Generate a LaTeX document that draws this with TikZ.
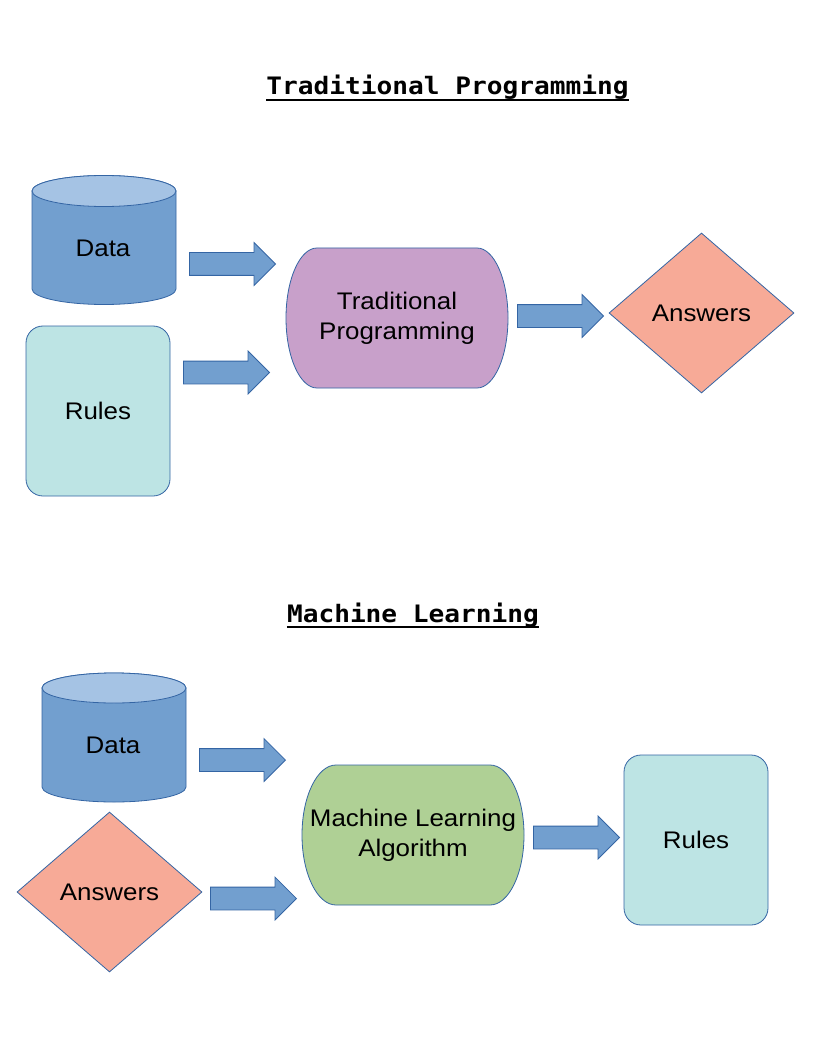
\documentclass[tikz,border=0pt]{standalone}
\usepackage{fontspec}
\setmainfont{Liberation Sans}[FakeStretch=1.08]
\newfontfamily\titlefont{DejaVu Sans Mono}[FakeStretch=1.09]
\usetikzlibrary{shapes.geometric,shapes.arrows}
\definecolor{bordc}{HTML}{3465A4}
\definecolor{bluefill}{HTML}{729FCF}
\definecolor{cyltop}{HTML}{A5C3E4}
\definecolor{rulesfill}{HTML}{BDE4E4}
\definecolor{tpfill}{HTML}{C8A0CA}
\definecolor{ansfill}{HTML}{F7AA97}
\definecolor{mlfill}{HTML}{AFD095}
\begin{document}
\begin{tikzpicture}[x=1pt,y=-1pt,
  shapeline/.style={draw=bordc,line width=0.8pt},
  txt/.style={font=\fontsize{24}{30}\selectfont,align=center,inner sep=0pt,text=black},
  titletxt/.style={font=\titlefont\bfseries\fontsize{24}{28}\selectfont,inner sep=0pt,anchor=base},
  ul/.style={line width=2pt,black},
  barrow/.style={single arrow,shapeline,fill=bluefill,minimum height=86pt,text height=0pt,text depth=0pt,text width=0pt,inner xsep=0pt,inner ysep=11pt,single arrow head extend=10pt,anchor=tip},
  rulesbox/.style={rectangle,rounded corners=17pt,shapeline,fill=rulesfill,minimum width=144pt,minimum height=170pt,txt},
  answersbox/.style={diamond,shapeline,fill=ansfill,minimum width=185pt,minimum height=160pt,txt}]
\useasboundingbox[fill=white] (0,0) rectangle (816,1056);

% ---------- Traditional Programming ----------
\node[titletxt] (t1) at (447.5,94.5) {Traditional Programming};
\draw[ul] ([yshift=-6pt]t1.base west) -- ([yshift=-6pt]t1.base east);

% Data cylinder
\path[shapeline,fill=bluefill] (32,191) -- (32,289)
  arc[start angle=180,end angle=360,x radius=72pt,y radius=15.5pt] -- (176,191)
  arc[start angle=0,end angle=180,x radius=72pt,y radius=15.5pt] -- cycle;
\draw[shapeline,fill=cyltop] (104,191) ellipse[x radius=72pt,y radius=15.5pt];
\node[txt] (data1) at (103,248) {Data};

% Rules
\node[rulesbox] (rules1) at (98,411) {Rules};

% Traditional Programming process
\path[shapeline,fill=tpfill] (317,248) -- (477,248)
  arc[start angle=90,end angle=-90,x radius=31pt,y radius=70pt] -- (317,388)
  arc[start angle=270,end angle=90,x radius=31pt,y radius=70pt] -- cycle;
\node[txt] (tp) at (397,318) {Traditional\\Programming};

% Answers
\node[answersbox] (ans1) at (701.5,313) {Answers};

% arrows
\node[barrow] (ar1) at (276,264) {};
\node[barrow] (ar2) at (270,372.5) {};
\node[barrow] (ar3) at (604,316) {};

% ---------- Machine Learning ----------
\node[titletxt] (t2) at (413,622) {Machine Learning};
\draw[ul] ([yshift=-5pt]t2.base west) -- ([yshift=-5pt]t2.base east);

% Data cylinder
\path[shapeline,fill=bluefill] (42,688) -- (42,787)
  arc[start angle=180,end angle=360,x radius=72pt,y radius=15pt] -- (186,688)
  arc[start angle=0,end angle=180,x radius=72pt,y radius=15pt] -- cycle;
\draw[shapeline,fill=cyltop] (114,688) ellipse[x radius=72pt,y radius=15pt];
\node[txt] (data2) at (113,745) {Data};

% Answers
\node[answersbox] (ans2) at (109.5,892) {Answers};

% ML algorithm
\path[shapeline,fill=mlfill] (336,765) -- (490,765)
  arc[start angle=90,end angle=-90,x radius=34pt,y radius=70pt] -- (336,905)
  arc[start angle=270,end angle=90,x radius=34pt,y radius=70pt] -- cycle;
\node[txt] (ml) at (413,835) {Machine Learning\\Algorithm};

% Rules
\node[rulesbox] (rules2) at (696,840) {Rules};

% arrows
\node[barrow] (ar4) at (286,760) {};
\node[barrow] (ar5) at (297,898.5) {};
\node[barrow] (ar6) at (620,837.5) {};
\end{tikzpicture}
\end{document}
